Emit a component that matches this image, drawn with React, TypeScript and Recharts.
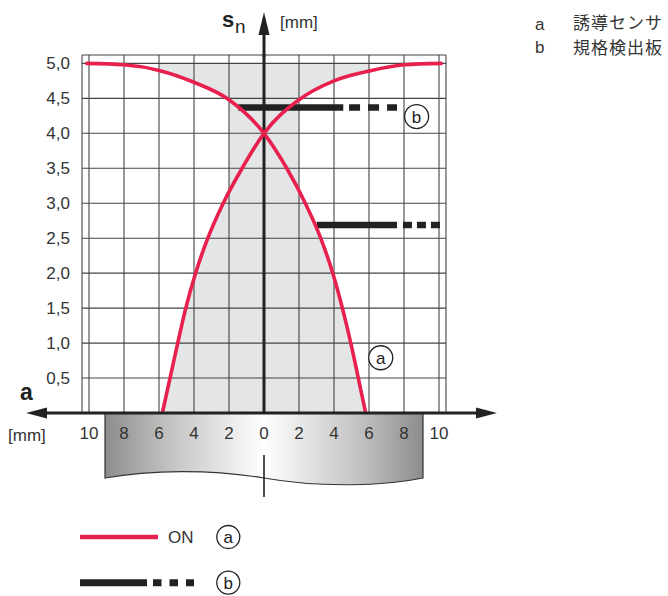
import React from 'react'
import {
  ComposedChart,
  Area,
  Line,
  XAxis,
  YAxis,
  CartesianGrid,
  ReferenceDot,
} from 'recharts'

const xTicks = [-10, -8, -6, -4, -2, 0, 2, 4, 6, 8, 10]
const yTicks = [0.5, 1, 1.5, 2, 2.5, 3, 3.5, 4, 4.5, 5]

// switching curve approaching from the left (a)
const curveAX = [-10.2, -8, -6, -4, -2, 0, 1.3, 2.36, 3.24, 3.93, 4.48, 4.96, 5.39, 5.81]
const curveAY = [5.0, 4.98, 4.9, 4.73, 4.48, 4.0, 3.5, 3.0, 2.5, 2.0, 1.5, 1.0, 0.5, 0]

// switching curve approaching from the right (a)
const curveBX = [-5.81, -5.37, -4.93, -4.47, -3.91, -3.21, -2.33, -1.25, 0, 2, 4, 6, 8, 10.2]
const curveBY = [0, 0.5, 1.0, 1.5, 2.0, 2.5, 3.0, 3.5, 4.0, 4.48, 4.75, 4.89, 4.98, 5.0]

// target plates (b)
const plateLevel = [4.37, 2.69]
const plateStart = [-1.47, 3.01]
const plateSolidEnd = [4.53, 7.6]
const plateDashStart = [4.86, 7.94]
const plateEnd = [7.6, 10.06]
const plateDash = ['11 8', '9 5']

// shaded response zone
const zoneX = [-6, 6]
const zoneTop = 5
const stripX = [-2, 2]

const RED = '#e8204e'
const INK = '#222'
const FILL = '#e4e5e7'
const FONT = '"Liberation Sans", Arial, Helvetica, sans-serif'
const CJK = '"Noto Sans CJK JP", sans-serif'

const pts = (xs: number[], ys: number[]) => xs.map((x, i) => ({ x, y: ys[i] }))
const curveA = pts(curveAX, curveAY)
const curveB = pts(curveBX, curveBY)
const lowA = curveA.filter((p) => p.x >= 0)
const lowB = curveB.filter((p) => p.x <= 0)
const zone = zoneX.map((x) => ({ x, y: zoneTop }))
const strip = stripX.map((x) => ({ x, y: zoneTop }))
const yAxisLine = [
  { x: 0, y: 0 },
  { x: 0, y: 5.12 },
]

const Circled = ({ x, y, t }: { x: number; y: number; t: string }) => (
  <g>
    <circle cx={x} cy={y} r={11.5} fill="#fff" stroke={INK} strokeWidth={1.3} />
    <text x={x} y={y + 6} textAnchor="middle" fontSize={17} fill={INK}>
      {t}
    </text>
  </g>
)

const areaProps = {
  dataKey: 'y',
  stroke: 'none',
  fillOpacity: 1,
  baseValue: 0,
  isAnimationActive: false,
  activeDot: false,
}

export default function App() {
  return (
    <div style={{ position: 'absolute', left: 0, top: 0, width: 668, height: 596, fontFamily: FONT }}>
      <svg width={668} height={596} style={{ position: 'absolute', left: 0, top: 0 }}>
        <defs>
          <linearGradient id="sensor" x1="0" x2="1" y1="0" y2="0">
            <stop offset="0%" stopColor="#8c8c8c" />
            <stop offset="20%" stopColor="#c2c2c2" />
            <stop offset="50%" stopColor="#ffffff" />
            <stop offset="80%" stopColor="#c2c2c2" />
            <stop offset="100%" stopColor="#8c8c8c" />
          </linearGradient>
        </defs>
        <path
          d="M105,413 L423,413 L423,478 C385,486 320,488 264,478 C210,469 150,470 105,478 Z"
          fill="url(#sensor)"
          stroke="#333"
          strokeWidth={1.2}
        />
        <line x1={264} x2={264} y1={455} y2={497} stroke={INK} strokeWidth={1.6} />
      </svg>

      <div style={{ position: 'absolute', left: 0, top: 0 }}>
        <ComposedChart width={668} height={596} margin={{ top: 55, right: 222, bottom: 153, left: 22 }}>
          <XAxis
            type="number"
            dataKey="x"
            domain={[-10.4, 10.4]}
            ticks={xTicks}
            interval={0}
            allowDataOverflow
            tickFormatter={(v: number) => String(Math.abs(v))}
            axisLine={false}
            tickLine={false}
            tickSize={0}
            tickMargin={14}
            height={30}
            tick={{ fontSize: 17, fill: '#333', fontFamily: FONT }}
          />
          <YAxis
            type="number"
            domain={[0, 5.12]}
            ticks={yTicks}
            interval={0}
            allowDataOverflow
            tickFormatter={(v: number) => v.toFixed(1).replace('.', ',')}
            axisLine={false}
            tickLine={false}
            tickSize={0}
            tickMargin={12}
            width={60}
            tick={{ fontSize: 17, fill: '#333', fontFamily: FONT }}
          />
          {/* grey zone: full block, cleared under both curves, then refilled below them */}
          <Area {...areaProps} data={zone} type="linear" fill={FILL} />
          <Area {...areaProps} data={curveA} type="monotone" fill="#fff" />
          <Area {...areaProps} data={curveB} type="monotone" fill="#fff" />
          <Area {...areaProps} data={lowB} type="monotone" fill={FILL} />
          <Area {...areaProps} data={lowA} type="monotone" fill={FILL} />
          <Area {...areaProps} data={strip} type="linear" fill={FILL} />
          <CartesianGrid stroke="#444" strokeWidth={1.1} zIndex={200} />
          <Line data={yAxisLine} dataKey="y" stroke={INK} strokeWidth={3} dot={false} isAnimationActive={false} />
          {plateLevel.map((lv, i) => (
            <Line
              key={'ps' + i}
              data={[
                { x: plateStart[i], y: lv },
                { x: plateSolidEnd[i], y: lv },
              ]}
              dataKey="y"
              stroke={INK}
              strokeWidth={6.5}
              dot={false}
              isAnimationActive={false}
            />
          ))}
          {plateLevel.map((lv, i) => (
            <Line
              key={'pd' + i}
              data={[
                { x: plateDashStart[i], y: lv },
                { x: plateEnd[i], y: lv },
              ]}
              dataKey="y"
              stroke={INK}
              strokeWidth={6.5}
              strokeDasharray={plateDash[i]}
              dot={false}
              isAnimationActive={false}
            />
          ))}
          <Line data={curveA} dataKey="y" type="monotone" stroke={RED} strokeWidth={3.6} dot={false} isAnimationActive={false} />
          <Line data={curveB} dataKey="y" type="monotone" stroke={RED} strokeWidth={3.6} dot={false} isAnimationActive={false} />
          <ReferenceDot
            x={8.72}
            y={4.24}
            r={12}
            fill="#fff"
            stroke={INK}
            strokeWidth={1.3}
            label={{ value: 'b', position: 'center', fill: INK, fontSize: 17, fontFamily: FONT }}
          />
          <ReferenceDot
            x={6.67}
            y={0.79}
            r={12}
            fill="#fff"
            stroke={INK}
            strokeWidth={1.3}
            label={{ value: 'a', position: 'center', fill: INK, fontSize: 17, fontFamily: FONT }}
          />
        </ComposedChart>
      </div>

      <svg width={668} height={596} style={{ position: 'absolute', left: 0, top: 0, pointerEvents: 'none' }}>
        {/* axes with arrow heads */}
        <line x1={44} x2={480} y1={413} y2={413} stroke={INK} strokeWidth={3} />
        <polygon points="26,413 47,407.5 47,418.5" fill={INK} />
        <polygon points="497,413 476,407.5 476,418.5" fill={INK} />
        <line x1={264} x2={264} y1={57} y2={30} stroke={INK} strokeWidth={3} />
        <polygon points="264,12 258.5,35 269.5,35" fill={INK} />

        <text x={222} y={27} fontSize={22} fontWeight="bold" fill={INK}>s</text>
        <text x={235} y={33} fontSize={19} fill={INK}>n</text>
        <text x={280} y={28} fontSize={17} fill="#333">[mm]</text>
        <text x={20} y={400} fontSize={23} fontWeight="bold" fill={INK}>a</text>
        <text x={8} y={441} fontSize={17} fill="#333">[mm]</text>

        <text x={535} y={30} fontSize={17} fill="#333">a</text>
        <text x={573} y={29} fontSize={17} letterSpacing={1} fill="#333" fontFamily={CJK}>誘導センサ</text>
        <text x={535} y={53} fontSize={17} fill="#333">b</text>
        <text x={573} y={54} fontSize={17} letterSpacing={1} fill="#333" fontFamily={CJK}>規格検出板</text>

        <line x1={80} x2={158} y1={537} y2={537} stroke={RED} strokeWidth={4.3} />
        <text x={168} y={543} fontSize={17} fill="#333">ON</text>
        <Circled x={228.3} y={537} t="a" />
        <line x1={80} x2={147} y1={582.7} y2={582.7} stroke={INK} strokeWidth={7} />
        <line x1={153} x2={194} y1={582.7} y2={582.7} stroke={INK} strokeWidth={7} strokeDasharray="8.5 8" />
        <Circled x={228.3} y={582.7} t="b" />
      </svg>
    </div>
  )
}
